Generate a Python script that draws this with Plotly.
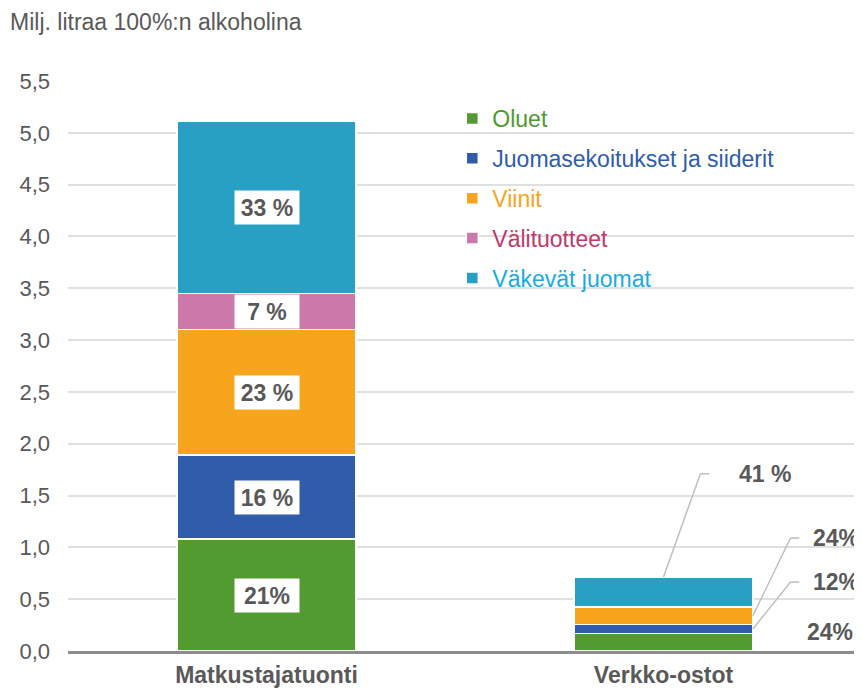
import plotly.graph_objects as go

categories = ["Matkustajatuonti", "Verkko-ostot"]
series_names = ["Oluet", "Juomasekoitukset ja siiderit", "Viinit", "Välituotteet", "Väkevät juomat"]
oluet = [1.08, 0.17]
juomasekoitukset = [0.81, 0.085]
viinit = [1.21, 0.17]
valituotteet = [0.35, 0.0]
vakevat = [1.66, 0.29]
labels_matkustaja = ["21%", "16 %", "23 %", "7 %", "33 %"]
labels_verkko = ["24%", "12%", "24%", "", "41 %"]

bar_colors = ["#529B30", "#2F5DA9", "#F7A51C", "#CB78AB", "#27A0C3"]
legend_text_colors = ["#4E9A2E", "#2F5DA9", "#F7A51C", "#C0396B", "#17ABE3"]
values = [oluet, juomasekoitukset, viinit, valituotteet, vakevat]

FONT = "Liberation Sans, Arial, sans-serif"
GRAY = "#595959"
LABEL_SIZE = 23

fig = go.Figure()
for i, name in enumerate(series_names):
    fig.add_trace(go.Bar(
        x=categories, y=values[i],
        name=f"<span style='color:{legend_text_colors[i]}'>{name}</span>",
        legendgroup=name,
        marker=dict(color=bar_colors[i], line=dict(color="white", width=1.5)),
        hoverinfo="skip",
    ))

annotations = []
# labels inside Matkustajatuonti bar
cum = 0.0
for i in range(len(series_names)):
    v = values[i][0]
    mid = cum + v / 2
    cum += v
    annotations.append(dict(
        x=0, y=mid, xref="x", yref="y", text=f"<b>{labels_matkustaja[i]}</b>",
        showarrow=False, bgcolor="white", borderpad=2, width=60, height=29,
        font=dict(family=FONT, size=LABEL_SIZE, color=GRAY),
    ))

# Verkko-ostot labels with leader lines
cum_v = []
c = 0.0
for i in range(len(series_names)):
    v = values[i][1]
    cum_v.append((c, c + v))
    c += v
total_v = c

shapes = []
line_style = dict(color="#BFBFBF", width=1.5)
half_w = 0.225
leaders = [
    # (series index, start x, start y, elbow x, elbow y, text x)
    (4, 1.0, total_v, 1.093, 1.71, 1.255),
    (2, 1 + half_w, sum(cum_v[2]) / 2, 1.32, 1.09, 1.435),
    (1, 1 + half_w, sum(cum_v[1]) / 2, 1.32, 0.665, 1.435),
]
for si, sx, sy, ex, ey, tx in leaders:
    shapes.append(dict(type="line", xref="x", yref="y", x0=sx, y0=sy, x1=ex, y1=ey, line=line_style))
    shapes.append(dict(type="line", xref="x", yref="y", x0=ex, y0=ey, x1=ex + 0.022, y1=ey, line=line_style))
    annotations.append(dict(
        x=tx, y=ey, xref="x", yref="y", text=f"<b>{labels_verkko[si]}</b>",
        showarrow=False, font=dict(family=FONT, size=LABEL_SIZE, color=GRAY),
    ))
annotations.append(dict(
    x=1.42, y=0.18, xref="x", yref="y", text=f"<b>{labels_verkko[0]}</b>",
    showarrow=False, font=dict(family=FONT, size=LABEL_SIZE, color=GRAY),
))

annotations.append(dict(
    x=0, y=1, xref="paper", yref="paper", xanchor="left", yanchor="middle",
    text="Milj. litraa 100%:n alkoholina", showarrow=False,
    font=dict(family=FONT, size=23, color=GRAY),
    xshift=-60, yshift=59,
))

fig.update_layout(
    barmode="stack",
    bargap=0.55,
    width=854, height=683,
    margin=dict(l=60, r=0, t=73, b=40, autoexpand=False),
    plot_bgcolor="white", paper_bgcolor="white",
    separators=", ",
    font=dict(family=FONT, color=GRAY),
    showlegend=True,
    legend=dict(
        x=0.484, y=0.972, xanchor="left", yanchor="top",
        traceorder="grouped", tracegroupgap=7,
        font=dict(family=FONT, size=23),
        bgcolor="rgba(0,0,0,0)", itemwidth=30,
    ),
    annotations=annotations,
    shapes=shapes,
)
fig.update_yaxes(
    range=[0, 5.5], dtick=0.5, tickformat=".1f",
    showgrid=True, gridcolor="#E0E0E0", gridwidth=1.5,
    zeroline=False, showline=False, automargin=False,
    tickfont=dict(family=FONT, size=22, color=GRAY),
    ticklabelstandoff=17,
)
fig.update_xaxes(
    showline=True, linecolor="#8C8C8C", linewidth=3, automargin=False,
    tickfont=dict(family=FONT, size=23, color=GRAY),
    tickprefix="<b>", ticksuffix="</b>",
    ticklabelstandoff=1,
)
fig.write_html("out.html")
